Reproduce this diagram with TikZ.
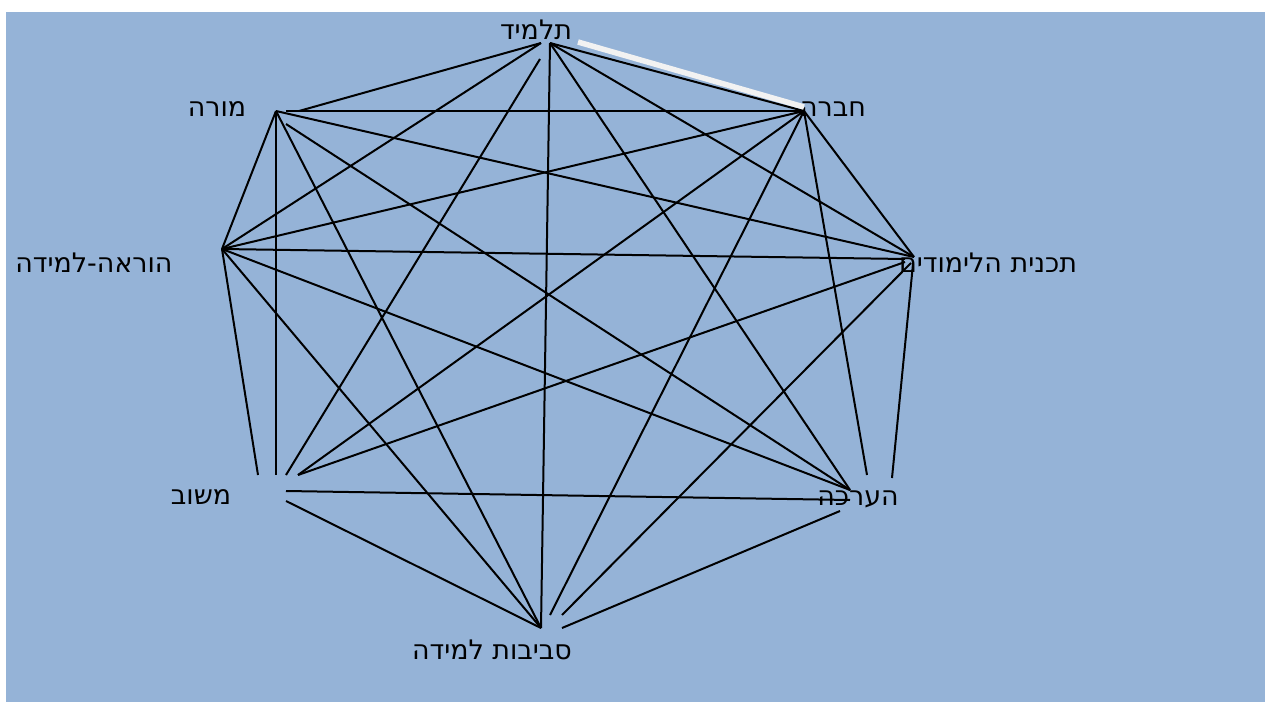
\documentclass[tikz,border=0pt]{standalone}
\usepackage{fontspec}
\newfontfamily\hebfont[Script=Hebrew]{DejaVu Sans}
\TeXXeTstate=1
\definecolor{bgblue}{RGB}{149,179,215}
\definecolor{hiwhite}{RGB}{242,242,242}
\begin{document}
\begin{tikzpicture}[x=1bp,y=-1bp,
  edge/.style={line width=2bp, black},
  lbl/.style={font=\hebfont\fontsize{27}{32}\selectfont, inner sep=0pt, anchor=base, text=black}]
\useasboundingbox (0,0) rectangle (1265,702);
\fill[bgblue] (6,12) rectangle (1265,702);
% labels
\node[lbl] (nT)  at (536,40)  {\beginR תלמיד\endR};
\node[lbl] (nM)  at (217,117) {\beginR מורה\endR};
\node[lbl] (nCh) at (833,117) {\beginR חברה\endR};
\node[lbl] (nH)  at (94,272)  {\beginR הוראה-למידה\endR};
\node[lbl] (nTL) at (988,272) {\beginR תכנית הלימודים\endR};
\node[lbl] (nMv) at (201,504) {\beginR משוב\endR};
\node[lbl] (nE)  at (858,505) {\beginR הערכה\endR};
\node[lbl] (nS)  at (492,659) {\beginR סביבות למידה\endR};
% endpoints
\coordinate (TL1) at (541,43);
\coordinate (TR1) at (550,43);
\coordinate (T2)  at (540,59);
\coordinate (Mh)  at (276,111);
\coordinate (Ma)  at (286,111);
\coordinate (Mb)  at (299,111);
\coordinate (Mc)  at (286,124);
\coordinate (Ch)  at (804,111);
\coordinate (H)   at (222,249);
\coordinate (P)   at (914,257);
\coordinate (Ph)  at (905,259);
\coordinate (Pm)  at (905,262);
\coordinate (Ps)  at (911,263);
\coordinate (Pe)  at (913,264);
\coordinate (Ea)  at (850,490);
\coordinate (Ec)  at (867,475);
\coordinate (Et)  at (892,478);
\coordinate (Em)  at (850,500);
\coordinate (Es)  at (840,511);
\coordinate (Sh)  at (541,628);
\coordinate (Sc)  at (550,615);
\coordinate (St)  at (562,615);
\coordinate (Se)  at (562,628);
\coordinate (Vh)  at (258,475);
\coordinate (Vm)  at (276,475);
\coordinate (Vt)  at (286,475);
\coordinate (Vc)  at (298,475);
\coordinate (Ve)  at (286,491);
\coordinate (Vs)  at (286,501);
\coordinate (W1)  at (578,42);
\coordinate (W2)  at (804,107);
% edges from student
\draw[edge] (TL1) -- (Mb);
\draw[edge] (TL1) -- (H);
\draw[edge] (T2) -- (Vt);
\draw[edge] (TR1) -- (Sh);
\draw[edge] (TR1) -- (Ch);
\draw[edge] (TR1) -- (P);
\draw[edge] (TR1) -- (Ea);
% teacher
\draw[edge] (Ma) -- (Ch);
\draw[edge] (Mh) -- (H);
\draw[edge] (Mh) -- (Vm);
\draw[edge] (Mh) -- (Sh);
\draw[edge] (Mh) -- (P);
\draw[edge] (Mc) -- (Ea);
% society
\draw[edge] (Ch) -- (H);
\draw[edge] (Ch) -- (P);
\draw[edge] (Ch) -- (Ec);
\draw[edge] (Ch) -- (Sc);
\draw[edge] (Ch) -- (Vc);
% teaching-learning
\draw[edge] (H) -- (Ph);
\draw[edge] (H) -- (Ea);
\draw[edge] (H) -- (Sh);
\draw[edge] (H) -- (Vh);
% curriculum
\draw[edge] (Pe) -- (Et);
\draw[edge] (Ps) -- (St);
\draw[edge] (Pm) -- (Vc);
% assessment
\draw[edge] (Em) -- (Ve);
\draw[edge] (Es) -- (Se);
% feedback
\draw[edge] (Vs) -- (Sh);
% highlight
\draw[hiwhite, line width=5.5bp] (W1) -- (W2);
\end{tikzpicture}
\end{document}
